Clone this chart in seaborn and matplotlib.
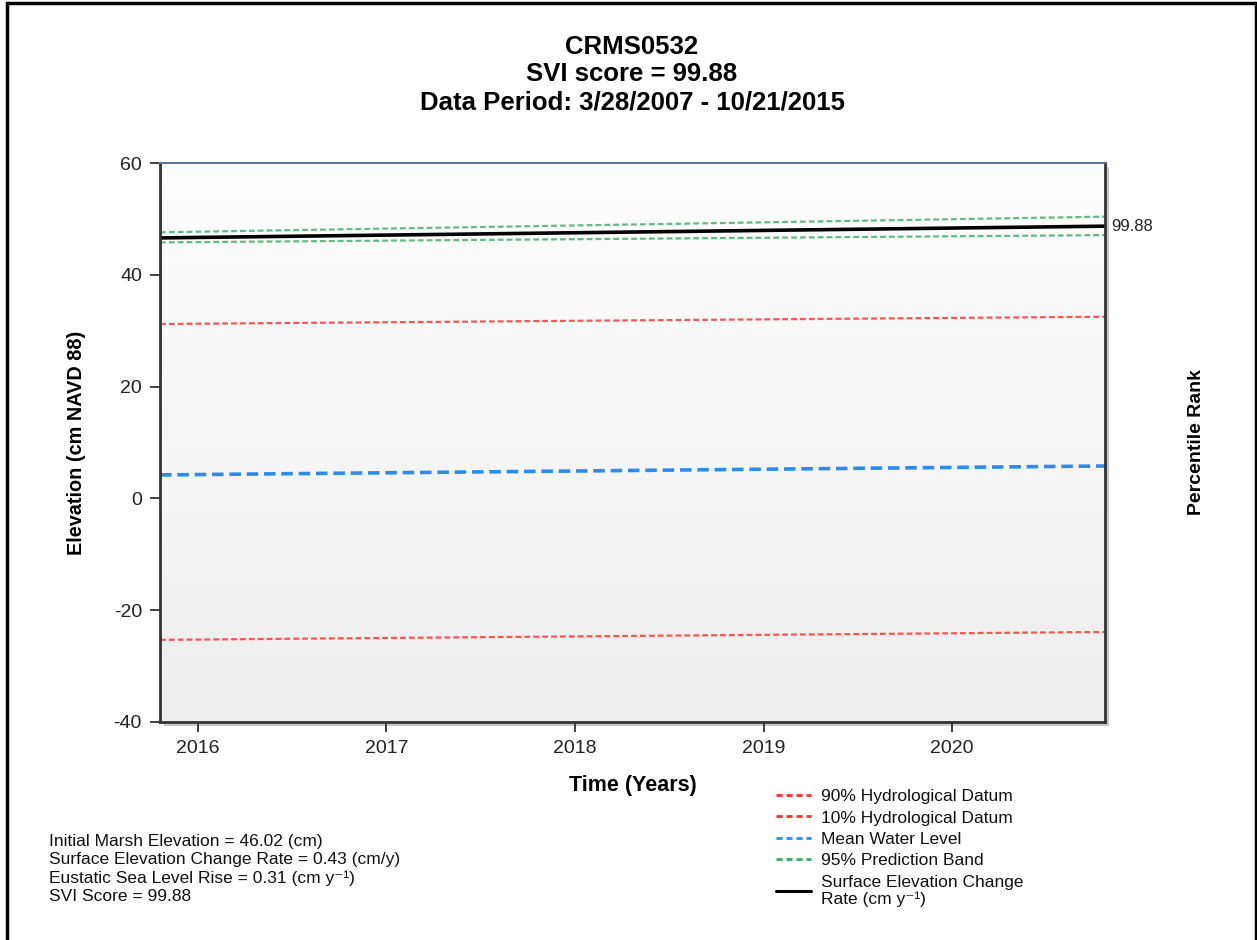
import numpy as np
import pandas as pd
import matplotlib
matplotlib.use("Agg")
import matplotlib.pyplot as plt
from matplotlib.lines import Line2D
from matplotlib.patches import Rectangle
from matplotlib.colors import LinearSegmentedColormap
import seaborn as sns

# ---- data ----
years = [2015.80, 2020.81]
hydro_90 = [31.2, 32.5]
hydro_10 = [-25.3, -23.9]
mean_water_level = [4.2, 5.8]
band_upper = [47.6, 50.4]
band_lower = [45.8, 47.1]
surface_elev = [46.6, 48.7]
x_ticks = [2016, 2017, 2018, 2019, 2020]
y_ticks = [-40, -20, 0, 20, 40, 60]
svi_label = "99.88"

title_lines = ["CRMS0532", "SVI score = 99.88", "Data Period: 3/28/2007 - 10/21/2015"]
info_lines = [
    "Initial Marsh Elevation = 46.02 (cm)",
    "Surface Elevation Change Rate = 0.43 (cm/y)",
    "Eustatic Sea Level Rise = 0.31 (cm y\u207b\u00b9)",
    "SVI Score = 99.88",
]
legend_labels = ["90% Hydrological Datum", "10% Hydrological Datum", "Mean Water Level",
                 "95% Prediction Band", "Surface Elevation Change\nRate (cm y\u207b\u00b9)"]

sns.set_theme(style="white")
plt.rcParams['font.family'] = ['Liberation Sans', 'DejaVu Sans']
plt.rcParams['axes.unicode_minus'] = False

W, H = 1257, 940
fig = plt.figure(figsize=(W / 100, H / 100), dpi=100)
fig.patch.set_facecolor("white")

L, R, T, B = 160, 1105, 163, 722

# shadow behind axes
shadow = Rectangle(((L + 4) / W, 1 - (B + 4) / H), (R - L) / W, (B - T) / H,
                   transform=fig.transFigure, facecolor="#c8c8c8", edgecolor="none", zorder=-5)
fig.patches.append(shadow)

ax = fig.add_axes([L / W, 1 - B / H, (R - L) / W, (B - T) / H], zorder=2)

# gradient background
cmap = LinearSegmentedColormap.from_list("bg", ["#eeeeee", "#fefefe"])
grad = np.linspace(0, 1, 256).reshape(-1, 1)
ax.imshow(grad, extent=[0, 1, 0, 1], transform=ax.transAxes, aspect="auto",
          cmap=cmap, origin="lower", zorder=0)

small_dash = (0, (2.6, 1.4))
sns.lineplot(x=years, y=hydro_90, ax=ax, color="#ff2a2a", lw=1.6, linestyle=small_dash, alpha=0.8)
sns.lineplot(x=years, y=hydro_10, ax=ax, color="#ff2a2a", lw=1.6, linestyle=small_dash, alpha=0.8)
sns.lineplot(x=years, y=mean_water_level, ax=ax, color="#2a8cf0", lw=2.6, linestyle=(0, (3.2, 1.6)))
sns.lineplot(x=years, y=band_upper, ax=ax, color="#3aaa64", lw=1.6, linestyle=small_dash, alpha=0.8)
sns.lineplot(x=years, y=band_lower, ax=ax, color="#3aaa64", lw=1.6, linestyle=small_dash, alpha=0.8)
sns.lineplot(x=years, y=surface_elev, ax=ax, color="black", lw=2.6)

ax.set_xlim(years[0], years[1])
ax.set_ylim(-40, 60)
ax.set_xticks(x_ticks)
ax.set_xticklabels([str(t) for t in x_ticks])
ax.set_yticks(y_ticks)
ax.tick_params(axis="both", direction="out", length=7, width=1.3, color="#333333",
               labelsize=14, labelcolor="#222222", pad=6, left=True, bottom=True)

for side in ["left", "bottom", "right"]:
    ax.spines[side].set_color("#333333")
    ax.spines[side].set_linewidth(2.0)
ax.spines["top"].set_color("#5a7196")
ax.spines["top"].set_linewidth(1.4)

ax.set_xlabel("Time (Years)", fontsize=15.5, fontweight="bold", labelpad=13, color="black")
ax.set_ylabel("Elevation (cm NAVD 88)", fontsize=14.3, fontweight="bold", labelpad=20, color="black")

ax2 = ax.twinx()
ax2.set_yticks([])
ax2.set_ylabel("Percentile Rank", fontsize=14, fontweight="bold", labelpad=60, color="black")
ax2.spines[:].set_visible(False)

ax.text(1.007, surface_elev[-1], svi_label, transform=ax.get_yaxis_transform(),
        ha="left", va="center", fontsize=12, color="#222222")

# titles
for txt, ypx in zip(title_lines, [47, 74, 103]):
    fig.text(632 / W, 1 - ypx / H, txt, ha="center", va="center",
             fontsize=18.5, fontweight="bold", color="black")

# info text
fig.text(49 / W, 1 - 834 / H, "\n".join(info_lines), ha="left", va="top",
         fontsize=12.5, linespacing=1.25, color="#111111")

# legend
dash = (0, (2.2, 1.4))
handles = [
    Line2D([], [], color="#ff2a2a", lw=2, linestyle=dash),
    Line2D([], [], color="#ff2a2a", lw=2, linestyle=dash),
    Line2D([], [], color="#2a8cf0", lw=2, linestyle=dash),
    Line2D([], [], color="#3aaa64", lw=2, linestyle=dash),
    Line2D([], [], color="black", lw=2.2),
]
leg = fig.legend(handles, legend_labels, loc="upper left", bbox_to_anchor=(776 / W, 1 - 789 / H),
                 frameon=False, fontsize=12.5, handlelength=2.0, handletextpad=0.6,
                 labelspacing=0.36, borderaxespad=0, borderpad=0)
for t in leg.get_texts():
    t.set_linespacing(1.12)
    t.set_color("#111111")

# outer border
border = Rectangle((7 / W, -0.01), (1256 - 7) / W, 1 - 3 / H + 0.01, transform=fig.transFigure,
                   facecolor="none", edgecolor="black", lw=2.5, zorder=10)
fig.patches.append(border)

fig.savefig("out.png", dpi=100, facecolor="white")
